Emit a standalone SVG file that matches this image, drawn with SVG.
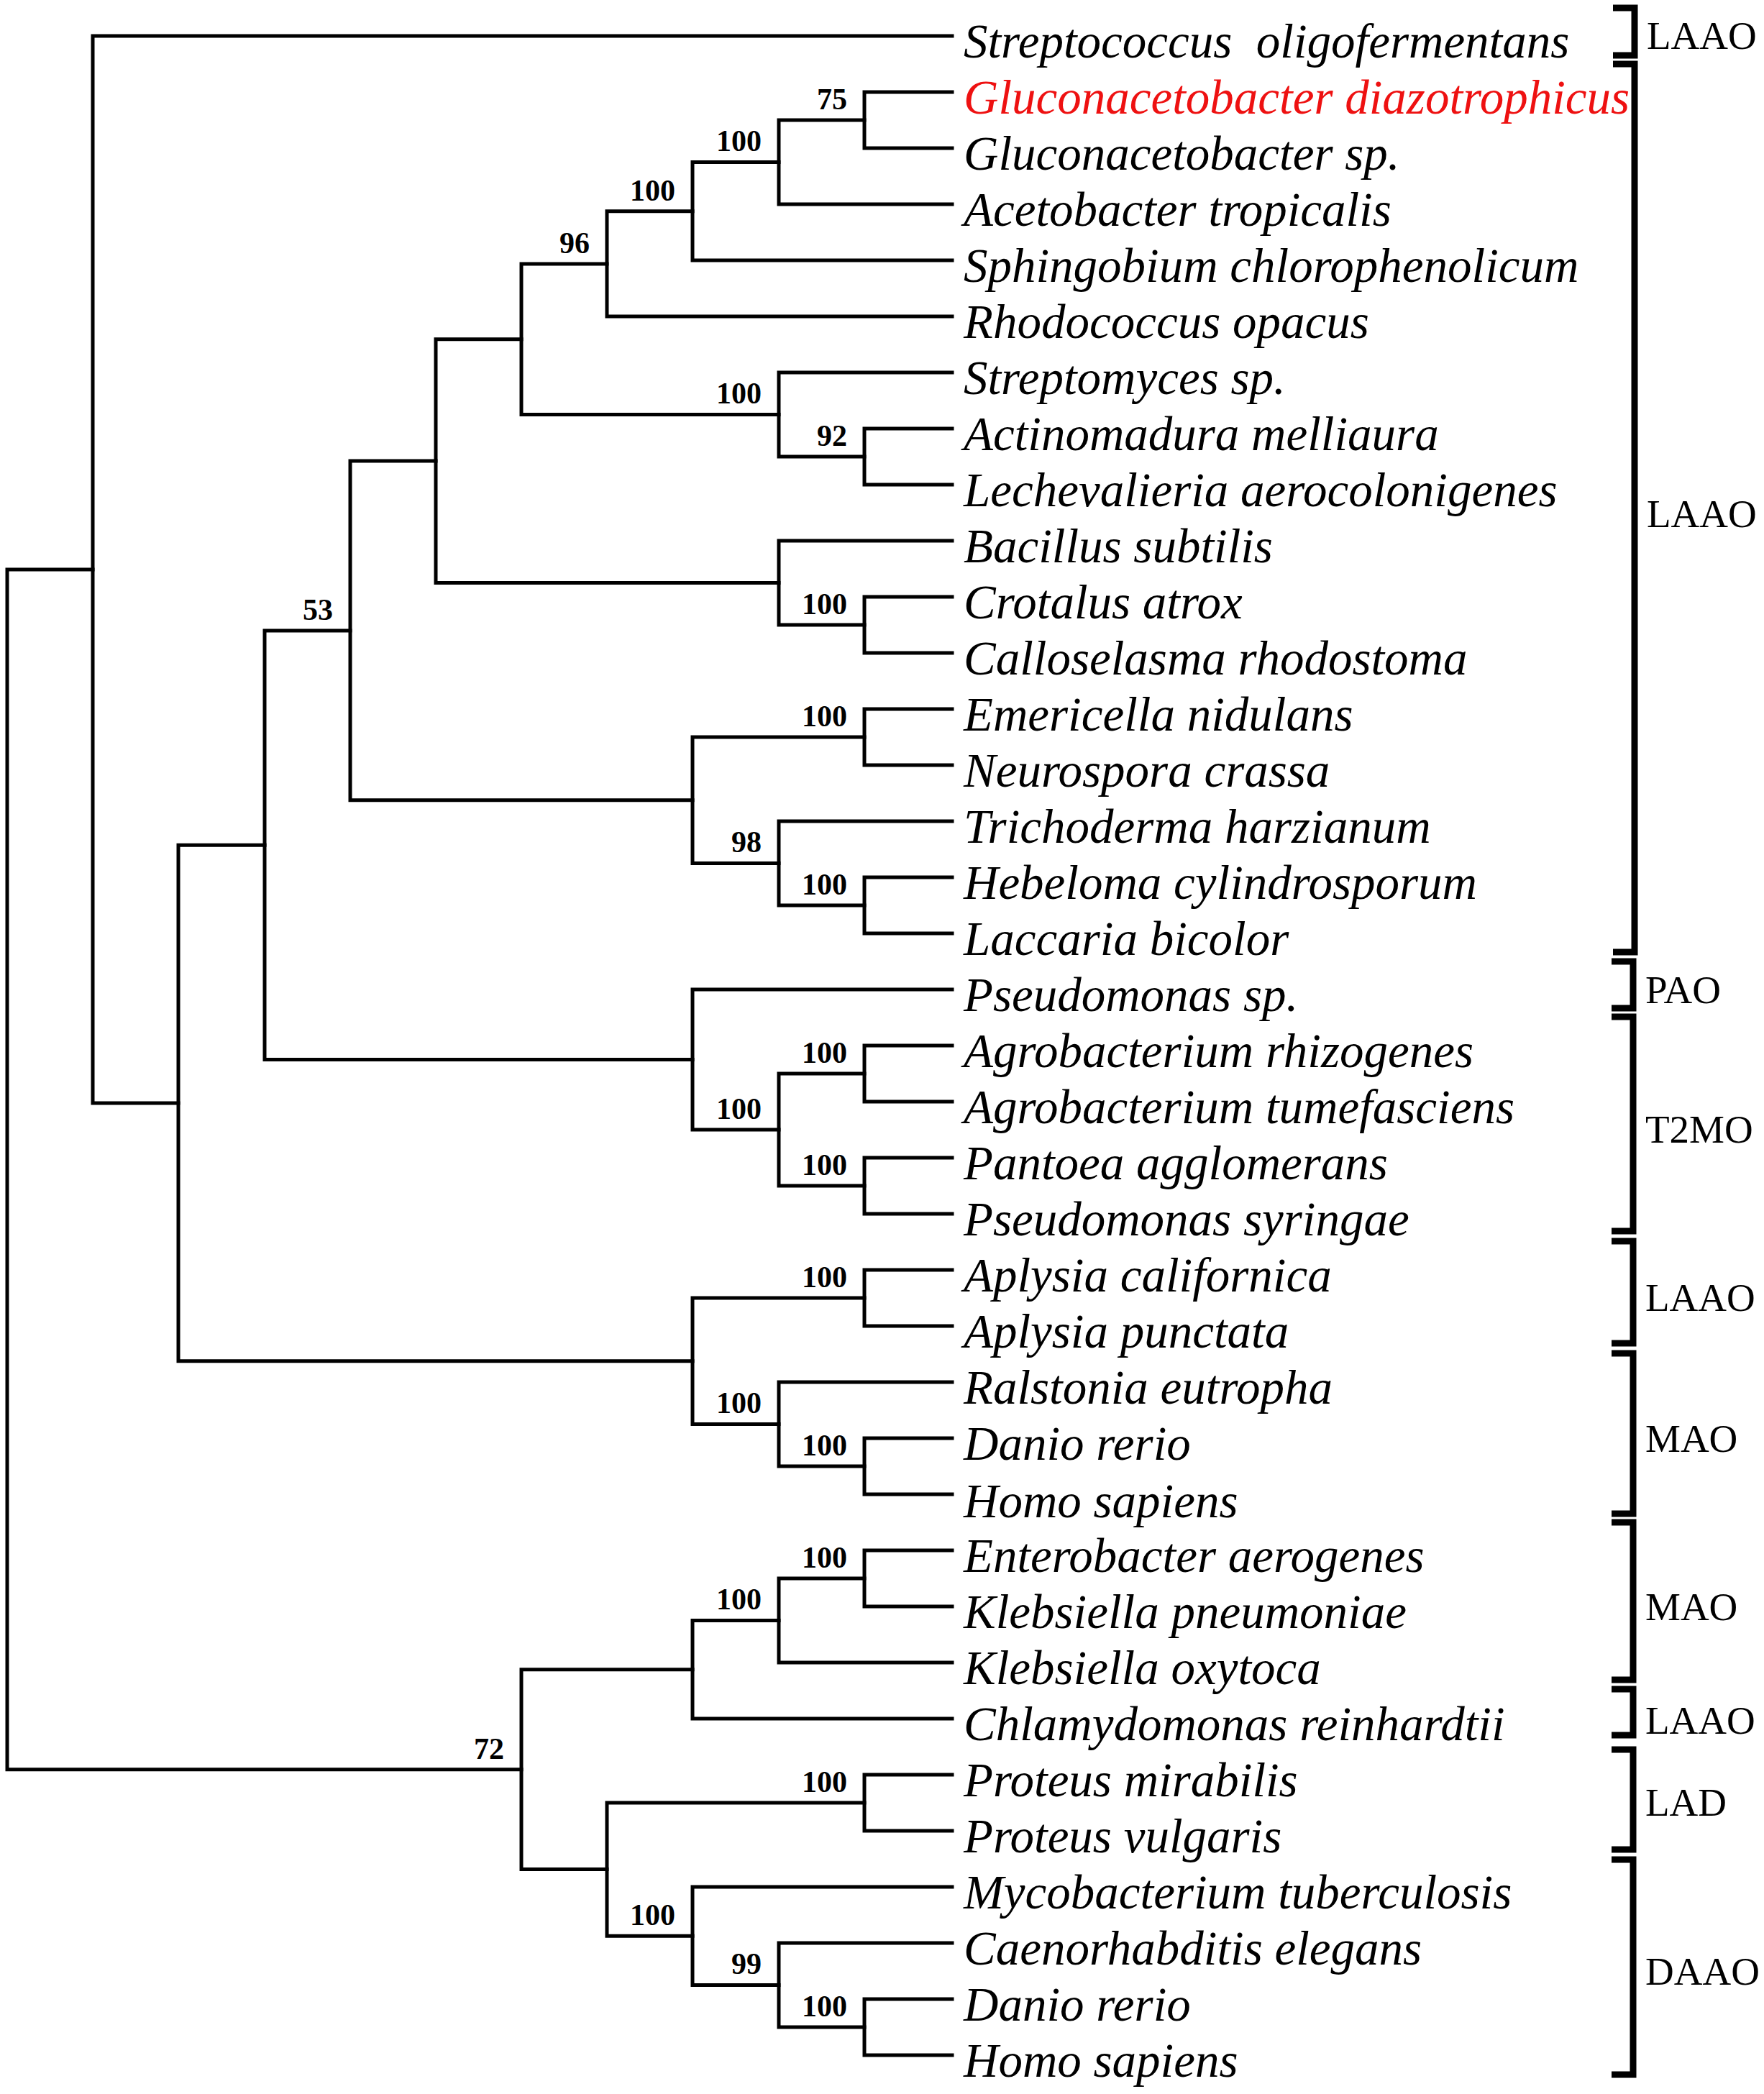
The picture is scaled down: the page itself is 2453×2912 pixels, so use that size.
<svg xmlns="http://www.w3.org/2000/svg" width="2453" height="2912" viewBox="0 0 2453 2912">
<style>
.br{fill:none;stroke:#000;stroke-width:5;stroke-linejoin:miter;stroke-linecap:square}
.bk{fill:none;stroke:#000;stroke-width:9;stroke-linejoin:miter;stroke-linecap:butt}
.lf{font-family:"Liberation Serif","Times New Roman",serif;font-style:italic;font-size:67px;fill:#000}
.red{fill:#ee1111}
.bs{font-family:"Liberation Serif","Times New Roman",serif;font-weight:bold;font-size:42px;fill:#000;text-anchor:end}
.gl{font-family:"Liberation Serif","Times New Roman",serif;font-size:55px;fill:#000}
</style>
<rect width="2453" height="2912" fill="#fff"/>
<g id="connectors">
<path class="br" d="M1324 128 H1202 V206 H1324"/>
<path class="br" d="M1202 167 H1083 V284 H1324"/>
<path class="br" d="M1083 225.5 H963 V362 H1324"/>
<path class="br" d="M963 293.75 H844 V440 H1324"/>
<path class="br" d="M1324 596 H1202 V674 H1324"/>
<path class="br" d="M1324 518 H1083 V635 H1202"/>
<path class="br" d="M844 366.9 H725 V576.5 H1083"/>
<path class="br" d="M1324 830 H1202 V908 H1324"/>
<path class="br" d="M1324 752 H1083 V869 H1202"/>
<path class="br" d="M725 471.7 H606 V810.5 H1083"/>
<path class="br" d="M1324 986 H1202 V1064 H1324"/>
<path class="br" d="M1324 1220 H1202 V1298 H1324"/>
<path class="br" d="M1324 1142 H1083 V1259 H1202"/>
<path class="br" d="M1202 1025 H963 V1200.5 H1083"/>
<path class="br" d="M606 641.1 H487 V1112.75 H963"/>
<path class="br" d="M1324 1454 H1202 V1532 H1324"/>
<path class="br" d="M1324 1610 H1202 V1688 H1324"/>
<path class="br" d="M1202 1493 H1083 V1649 H1202"/>
<path class="br" d="M1324 1376 H963 V1571 H1083"/>
<path class="br" d="M487 876.9 H368 V1473.5 H963"/>
<path class="br" d="M1324 1766 H1202 V1844 H1324"/>
<path class="br" d="M1324 2000 H1202 V2078 H1324"/>
<path class="br" d="M1324 1922 H1083 V2039 H1202"/>
<path class="br" d="M1202 1805 H963 V1980.5 H1083"/>
<path class="br" d="M368 1175.2 H248 V1892.75 H963"/>
<path class="br" d="M1324 50 H129 V1534 H248"/>
<path class="br" d="M1324 2156 H1202 V2234 H1324"/>
<path class="br" d="M1202 2195 H1083 V2312 H1324"/>
<path class="br" d="M1083 2253.5 H963 V2390 H1324"/>
<path class="br" d="M1324 2468 H1202 V2546 H1324"/>
<path class="br" d="M1324 2780 H1202 V2858 H1324"/>
<path class="br" d="M1324 2702 H1083 V2819 H1202"/>
<path class="br" d="M1324 2624 H963 V2760.5 H1083"/>
<path class="br" d="M1202 2507 H844 V2692.25 H963"/>
<path class="br" d="M963 2321.75 H725 V2599.6 H844"/>
<path class="br" d="M129 792 H10 V2460.7 H725"/>
</g>
<g id="bootstrap">
<g id="n75"><text class="bs" x="1178" y="152">75</text></g>
<g id="n100a"><text class="bs" x="1059" y="210">100</text></g>
<g id="n100b"><text class="bs" x="939" y="279">100</text></g>
<g id="n96"><text class="bs" x="820" y="352">96</text></g>
<g id="n92"><text class="bs" x="1178" y="620">92</text></g>
<g id="n100c"><text class="bs" x="1059" y="561">100</text></g>
<g id="n100d"><text class="bs" x="1178" y="854">100</text></g>
<g id="n100e"><text class="bs" x="1178" y="1010">100</text></g>
<g id="n100f"><text class="bs" x="1178" y="1244">100</text></g>
<g id="n98"><text class="bs" x="1059" y="1185">98</text></g>
<g id="n53"><text class="bs" x="463" y="862">53</text></g>
<g id="n100g"><text class="bs" x="1178" y="1478">100</text></g>
<g id="n100h"><text class="bs" x="1178" y="1634">100</text></g>
<g id="n100i"><text class="bs" x="1059" y="1556">100</text></g>
<g id="n100j"><text class="bs" x="1178" y="1790">100</text></g>
<g id="n100k"><text class="bs" x="1178" y="2024">100</text></g>
<g id="n100l"><text class="bs" x="1059" y="1965">100</text></g>
<g id="n100m"><text class="bs" x="1178" y="2180">100</text></g>
<g id="n100n"><text class="bs" x="1059" y="2238">100</text></g>
<g id="n100o"><text class="bs" x="1178" y="2492">100</text></g>
<g id="n100p"><text class="bs" x="1178" y="2804">100</text></g>
<g id="n99"><text class="bs" x="1059" y="2745">99</text></g>
<g id="n100q"><text class="bs" x="939" y="2677">100</text></g>
<g id="n72"><text class="bs" x="701" y="2446">72</text></g>
</g>
<g id="leaves">
<g id="leaf0"><text class="lf" x="1340" y="80" xml:space="preserve" style="white-space:pre">Streptococcus  oligofermentans</text></g>
<g id="leaf1"><text class="lf red" x="1340" y="158">Gluconacetobacter diazotrophicus</text></g>
<g id="leaf2"><text class="lf" x="1340" y="236">Gluconacetobacter sp.</text></g>
<g id="leaf3"><text class="lf" x="1340" y="314">Acetobacter tropicalis</text></g>
<g id="leaf4"><text class="lf" x="1340" y="392">Sphingobium chlorophenolicum</text></g>
<g id="leaf5"><text class="lf" x="1340" y="470">Rhodococcus opacus</text></g>
<g id="leaf6"><text class="lf" x="1340" y="548">Streptomyces sp.</text></g>
<g id="leaf7"><text class="lf" x="1340" y="626">Actinomadura melliaura</text></g>
<g id="leaf8"><text class="lf" x="1340" y="704">Lechevalieria aerocolonigenes</text></g>
<g id="leaf9"><text class="lf" x="1340" y="782">Bacillus subtilis</text></g>
<g id="leaf10"><text class="lf" x="1340" y="860">Crotalus atrox</text></g>
<g id="leaf11"><text class="lf" x="1340" y="938">Calloselasma rhodostoma</text></g>
<g id="leaf12"><text class="lf" x="1340" y="1016">Emericella nidulans</text></g>
<g id="leaf13"><text class="lf" x="1340" y="1094">Neurospora crassa</text></g>
<g id="leaf14"><text class="lf" x="1340" y="1172">Trichoderma harzianum</text></g>
<g id="leaf15"><text class="lf" x="1340" y="1250">Hebeloma cylindrosporum</text></g>
<g id="leaf16"><text class="lf" x="1340" y="1328">Laccaria bicolor</text></g>
<g id="leaf17"><text class="lf" x="1340" y="1406">Pseudomonas sp.</text></g>
<g id="leaf18"><text class="lf" x="1340" y="1484">Agrobacterium rhizogenes</text></g>
<g id="leaf19"><text class="lf" x="1340" y="1562">Agrobacterium tumefasciens</text></g>
<g id="leaf20"><text class="lf" x="1340" y="1640">Pantoea agglomerans</text></g>
<g id="leaf21"><text class="lf" x="1340" y="1718">Pseudomonas syringae</text></g>
<g id="leaf22"><text class="lf" x="1340" y="1796">Aplysia californica</text></g>
<g id="leaf23"><text class="lf" x="1340" y="1874">Aplysia punctata</text></g>
<g id="leaf24"><text class="lf" x="1340" y="1952">Ralstonia eutropha</text></g>
<g id="leaf25"><text class="lf" x="1340" y="2030">Danio rerio</text></g>
<g id="leaf26"><text class="lf" x="1340" y="2110">Homo sapiens</text></g>
<g id="leaf27"><text class="lf" x="1340" y="2186">Enterobacter aerogenes</text></g>
<g id="leaf28"><text class="lf" x="1340" y="2264">Klebsiella pneumoniae</text></g>
<g id="leaf29"><text class="lf" x="1340" y="2342">Klebsiella oxytoca</text></g>
<g id="leaf30"><text class="lf" x="1340" y="2420">Chlamydomonas reinhardtii</text></g>
<g id="leaf31"><text class="lf" x="1340" y="2498">Proteus mirabilis</text></g>
<g id="leaf32"><text class="lf" x="1340" y="2576">Proteus vulgaris</text></g>
<g id="leaf33"><text class="lf" x="1340" y="2654">Mycobacterium tuberculosis</text></g>
<g id="leaf34"><text class="lf" x="1340" y="2732">Caenorhabditis elegans</text></g>
<g id="leaf35"><text class="lf" x="1340" y="2810">Danio rerio</text></g>
<g id="leaf36"><text class="lf" x="1340" y="2888">Homo sapiens</text></g>
</g>
<g id="groups">
<g id="grp1"><path class="bk" d="M2243 11 H2273 V77 H2243"/><text class="gl" x="2290" y="68">LAAO</text></g>
<g id="grp2"><path class="bk" d="M2243 89 H2273 V1324 H2243"/><text class="gl" x="2290" y="733">LAAO</text></g>
<g id="grp3"><path class="bk" d="M2241 1337 H2271 V1402 H2241"/><text class="gl" x="2288" y="1395">PAO</text></g>
<g id="grp4"><path class="bk" d="M2241 1414 H2271 V1712 H2241"/><text class="gl" x="2288" y="1589">T2MO</text></g>
<g id="grp5"><path class="bk" d="M2241 1726 H2271 V1868 H2241"/><text class="gl" x="2288" y="1823">LAAO</text></g>
<g id="grp6"><path class="bk" d="M2241 1882 H2271 V2105 H2241"/><text class="gl" x="2288" y="2019">MAO</text></g>
<g id="grp7"><path class="bk" d="M2241 2117 H2271 V2336 H2241"/><text class="gl" x="2288" y="2253">MAO</text></g>
<g id="grp8"><path class="bk" d="M2241 2349 H2271 V2413 H2241"/><text class="gl" x="2288" y="2411">LAAO</text></g>
<g id="grp9"><path class="bk" d="M2241 2433 H2271 V2572 H2241"/><text class="gl" x="2288" y="2525">LAD</text></g>
<g id="grp10"><path class="bk" d="M2241 2586 H2271 V2885 H2241"/><text class="gl" x="2288" y="2760">DAAO</text></g>
</g>
</svg>
